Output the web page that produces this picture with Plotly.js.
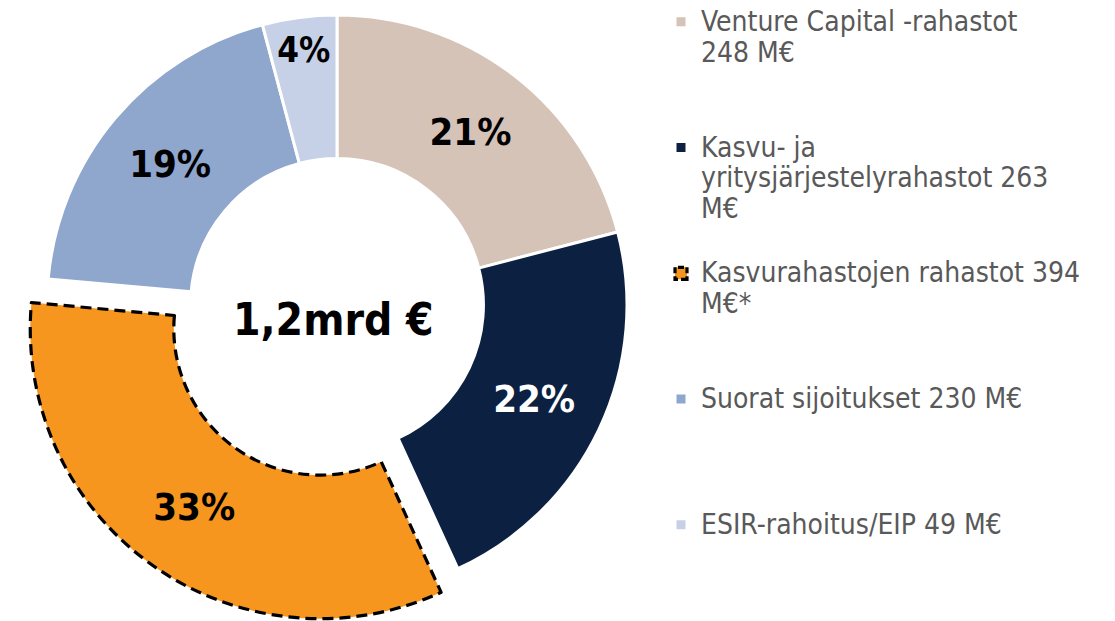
<!DOCTYPE html>
<html><head><meta charset="utf-8">
<script src="https://cdn.plot.ly/plotly-3.0.1.min.js"></script>
<style>
html,body{margin:0;padding:0;overflow:hidden;background:#fff;width:1115px;height:621px}
#chart{position:absolute;left:0;top:-14px;width:1115px;height:638px}
.pielayer .trace g.slice:nth-child(3) path.surface{stroke-dasharray:11px 6px}
.legend g.traces:nth-child(3) path.legendpie{stroke-dasharray:6px 3px}
</style></head><body><div id="chart"></div><script>
// Data
const categories = ["Venture Capital -rahastot", "Kasvu- ja yritysjärjestelyrahastot", "Kasvurahastojen rahastot", "Suorat sijoitukset", "ESIR-rahoitus/EIP"];
const amounts = [248, 263, 394, 230, 49];
const legendLines = [
  ["Venture Capital -rahastot", "248 M€"],
  ["Kasvu- ja", "yritysjärjestelyrahastot 263", "M€"],
  ["Kasvurahastojen rahastot 394", "M€*"],
  ["Suorat sijoitukset 230 M€"],
  ["ESIR-rahoitus/EIP 49 M€"]
];
const centerLabel = "1,2mrd €";
const sliceColors = ["#D5C3B8", "#0C2142", "#F7961E", "#8FA6CD", "#C6D1E7"];
const labelColors = ["#000000", "#FFFFFF", "#000000", "#000000", "#000000"];
const pulls = [0, 0, 0.1, 0, 0];

const FONT = "'DejaVu Sans Condensed', 'DejaVu Sans', sans-serif";
const LEG_TEXT = 28;
const legendText = legendLines.map((lines, i) => {
  const out = lines.map(l => '<span style="font-size:' + LEG_TEXT + 'px">' + l + '</span>');
  if (i < legendLines.length - 1) { while (out.length < 4) out.push('&nbsp;'); }
  return out.join('<br>');
});

const trace = {
  type: 'pie',
  labels: legendText,
  values: amounts,
  customdata: categories,
  sort: false,
  direction: 'clockwise',
  rotation: 0,
  hole: 0.505,
  pull: pulls,
  domain: {x: [18/1115, 656/1115], y: [0, 1]},
  marker: {
    colors: sliceColors,
    line: {color: ['#FFFFFF', '#FFFFFF', '#000000', '#FFFFFF', '#FFFFFF'], width: [3, 3, 3.2, 3, 3]}
  },
  texttemplate: '%{percent:.0%}',
  textposition: 'inside',
  insidetextorientation: 'horizontal',
  textfont: {family: FONT, size: 38, weight: 'bold', color: labelColors},
  hoverinfo: 'none'
};

const layout = {
  width: 1115, height: 638,
  margin: {l: 0, r: 0, t: 0, b: 0},
  paper_bgcolor: '#FFFFFF',
  font: {family: FONT},
  showlegend: true,
  legend: {
    x: 661/1115, xanchor: 'left', y: 1 - 14/638, yanchor: 'top',
    valign: 'top', traceorder: 'normal',
    font: {family: FONT, size: 23.6, color: '#595959'},
    bgcolor: 'rgba(0,0,0,0)'
  },
  annotations: [{
    text: centerLabel, xref: 'paper', yref: 'paper',
    x: 333/1115, y: 1 - 333/638, xanchor: 'center', yanchor: 'middle',
    showarrow: false,
    font: {family: FONT, size: 44, weight: 'bold', color: '#000000'}
  }]
};

Plotly.newPlot('chart', [trace], layout, {displayModeBar: false, staticPlot: true});
</script></body></html>
